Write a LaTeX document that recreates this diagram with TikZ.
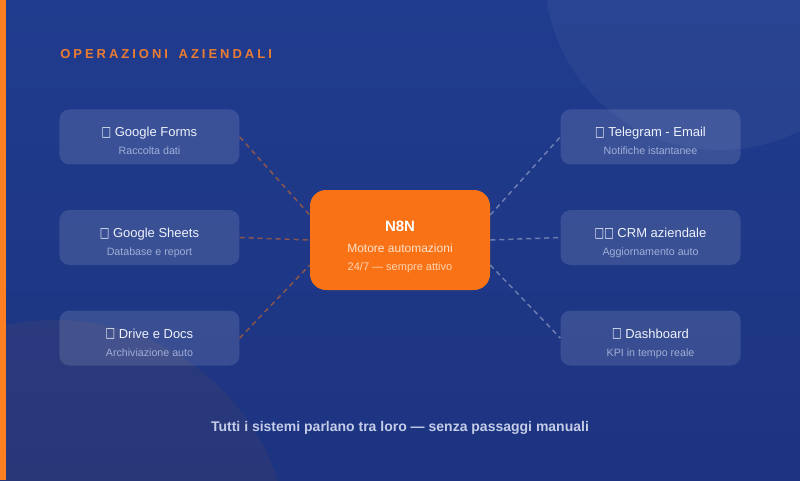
\documentclass[tikz,border=0pt]{standalone}
\usepackage{fontspec}
\setmainfont{Liberation Sans}
\newfontfamily\symfont{DejaVu Sans}
\newfontfamily\spacedfont[LetterSpace=23]{Liberation Sans}
\usetikzlibrary{positioning}
\definecolor{bgtop}{RGB}{32,60,142}
\definecolor{bgbottom}{RGB}{29,52,128}
\definecolor{n8norange}{RGB}{249,115,22}
\definecolor{barorange}{RGB}{252,128,34}
\definecolor{headorange}{RGB}{235,124,50}
\definecolor{boxtitle}{RGB}{238,242,250}
\definecolor{boxsub}{RGB}{160,175,214}
\definecolor{hubsub}{RGB}{255,226,204}
\definecolor{hubnote}{RGB}{255,212,178}
\definecolor{foottext}{RGB}{196,204,232}
\newcommand{\ico}{\raisebox{0.3pt}{\scalebox{0.8}[1.1]{\symfont\fontsize{9.5pt}{9.5pt}\selectfont □}}}
\newcommand{\boxtext}[2]{#1\\{\fontsize{8pt}{13.5pt}\selectfont\color{boxsub}#2}}

\begin{document}
\begin{tikzpicture}[
  x=0.75pt, y=-0.75pt,
  node distance=52.5pt,
  srcbox/.style={rectangle, rounded corners=7.5pt, fill=white, fill opacity=0.12, text opacity=1, text=boxtitle, minimum width=135pt, minimum height=41.25pt, inner sep=0pt, align=center, text height=34.1pt, text depth=7.15pt, font=\fontsize{9.75pt}{13.5pt}\selectfont},
  hub/.style={rectangle, rounded corners=12pt, fill=n8norange, minimum width=135pt, minimum height=75pt, inner sep=0pt, align=center, text=white, text height=60pt, text depth=15pt, font=\fontsize{9pt}{13.5pt}\selectfont},
  linkL/.style={draw=n8norange, draw opacity=0.5, line width=1.1pt, dash pattern=on 3.75pt off 3pt},
  linkR/.style={draw=white, draw opacity=0.35, line width=1.1pt, dash pattern=on 3.75pt off 3pt}
]
  \useasboundingbox (0,0) rectangle (800,480);
  % background
  \shade[top color=bgtop, bottom color=bgbottom] (0,0) rectangle (800,480);
  \begin{scope}
    \clip (0,0) rectangle (800,480);
    \fill[white, opacity=0.045] (720,-25) circle[radius=175];
    \fill[n8norange, opacity=0.06] (55,555) circle[radius=235];
  \end{scope}
  \fill[barorange] (0,0) rectangle (6,480);

  \node[anchor=base west, text=headorange, font=\spacedfont\bfseries\fontsize{9.75pt}{12pt}\selectfont, inner sep=0pt] (heading) at (60,58.3) {OPERAZIONI\hspace{3pt} AZIENDALI};

  % central engine
  \node[hub] (hub) at (400,240) {{\bfseries\fontsize{11.25pt}{13.5pt}\selectfont N8N}\\[2pt]{\color{hubsub}Motore automazioni}\\{\fontsize{8.25pt}{13.5pt}\selectfont\color{hubnote}24/7 — sempre attivo}};

  % sources (left)
  \node[srcbox, left=of hub, yshift=1.875pt] (sheets) {\boxtext{\ico\ Google Sheets}{Database e report}};
  \node[srcbox, above=33.75pt of sheets] (forms) {\boxtext{\ico\ Google Forms}{Raccolta dati}};
  \node[srcbox, below=33.75pt of sheets] (drive) {\boxtext{\ico\ Drive e Docs}{Archiviazione auto}};

  % targets (right)
  \node[srcbox, right=of hub, yshift=1.875pt] (crm) {\boxtext{\ico\ico\ CRM aziendale}{Aggiornamento auto}};
  \node[srcbox, above=33.75pt of crm] (telegram) {\boxtext{\ico\ Telegram - Email}{Notifiche istantanee}};
  \node[srcbox, below=33.75pt of crm] (dashboard) {\boxtext{\ico\ Dashboard}{KPI in tempo reale}};

  \draw[linkL] (forms.east) -- ([yshift=18.75pt]hub.west);
  \draw[linkL] (sheets.east) -- (hub.west);
  \draw[linkL] (drive.east) -- ([yshift=-18.75pt]hub.west);
  \draw[linkR] ([yshift=18.75pt]hub.east) -- (telegram.west);
  \draw[linkR] (hub.east) -- (crm.west);
  \draw[linkR] ([yshift=-18.75pt]hub.east) -- (dashboard.west);

  \node[anchor=base, text=foottext, font=\bfseries\fontsize{10.5pt}{12pt}\selectfont, inner sep=0pt] (footer) at (400,431.7) {Tutti i sistemi parlano tra loro — senza passaggi manuali};
\end{tikzpicture}
\end{document}
